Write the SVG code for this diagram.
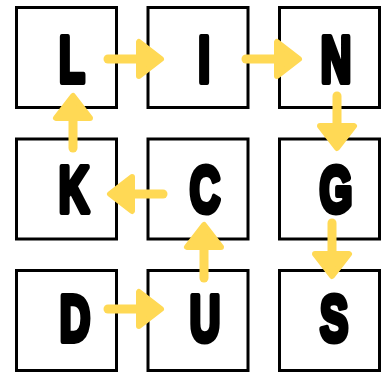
<svg xmlns="http://www.w3.org/2000/svg" width="385" height="375" viewBox="0 0 385 375">
<style>
.box{fill:#fff;stroke:#000;stroke-width:3}
.lt{font-family:"Liberation Sans",Arial,sans-serif;font-weight:bold;font-size:64px;text-anchor:middle;fill:#000;stroke:#000;stroke-width:6;stroke-linejoin:round}
.sh{fill:none;stroke:#FFD955;stroke-width:9;stroke-linecap:round;marker-end:url(#ah)}
</style>
<defs>
<marker id="ah" markerUnits="userSpaceOnUse" viewBox="-30 -30 60 60" markerWidth="60" markerHeight="60" refX="-15" refY="0" orient="auto" overflow="visible">
<polygon points="-3,0 -25,-17 -25,17" fill="#FFD955" stroke="#FFD955" stroke-width="6" stroke-linejoin="round"/>
</marker>
</defs>
<rect width="385" height="375" fill="#fff"/>
<g id="node-L"><rect class="box" x="16.5" y="7.5" width="100" height="100"/><text class="lt" transform="translate(72,82) scale(0.66,1)">L</text></g>
<g id="node-I"><rect class="box" x="148" y="7.5" width="100" height="100"/><text class="lt" transform="translate(204,82) scale(0.66,1)">I</text></g>
<g id="node-N"><rect class="box" x="279.5" y="7.5" width="100" height="100"/><text class="lt" transform="translate(336,82) scale(0.66,1)">N</text></g>
<g id="node-K"><rect class="box" x="16.5" y="139" width="100" height="100"/><text class="lt" transform="translate(74,212) scale(0.66,1)">K</text></g>
<g id="node-C"><rect class="box" x="148" y="139" width="100" height="100"/><text class="lt" transform="translate(205,212) scale(0.66,1)">C</text></g>
<g id="node-G"><rect class="box" x="279.5" y="139" width="100" height="100"/><text class="lt" transform="translate(336,212) scale(0.66,1)">G</text></g>
<g id="node-D"><rect class="box" x="16.5" y="270.5" width="100" height="100"/><text class="lt" transform="translate(75,341) scale(0.66,1)">D</text></g>
<g id="node-U"><rect class="box" x="148" y="270.5" width="100" height="100"/><text class="lt" transform="translate(205,341) scale(0.66,1)">U</text></g>
<g id="node-S"><rect class="box" x="279.5" y="270.5" width="100" height="100"/><text class="lt" transform="translate(334,341) scale(0.66,1)">S</text></g>
<g id="connectors">
<line class="sh" x1="108" y1="59" x2="149" y2="59"/>
<line class="sh" x1="246" y1="59" x2="287" y2="59"/>
<line class="sh" x1="337" y1="96" x2="337" y2="136"/>
<line class="sh" x1="332" y1="223" x2="332" y2="264"/>
<line class="sh" x1="163" y1="194" x2="122" y2="194"/>
<line class="sh" x1="73" y1="148" x2="73" y2="108"/>
<line class="sh" x1="204" y1="278" x2="204" y2="237"/>
<line class="sh" x1="108" y1="309" x2="149" y2="309"/>
</g>
</svg>
